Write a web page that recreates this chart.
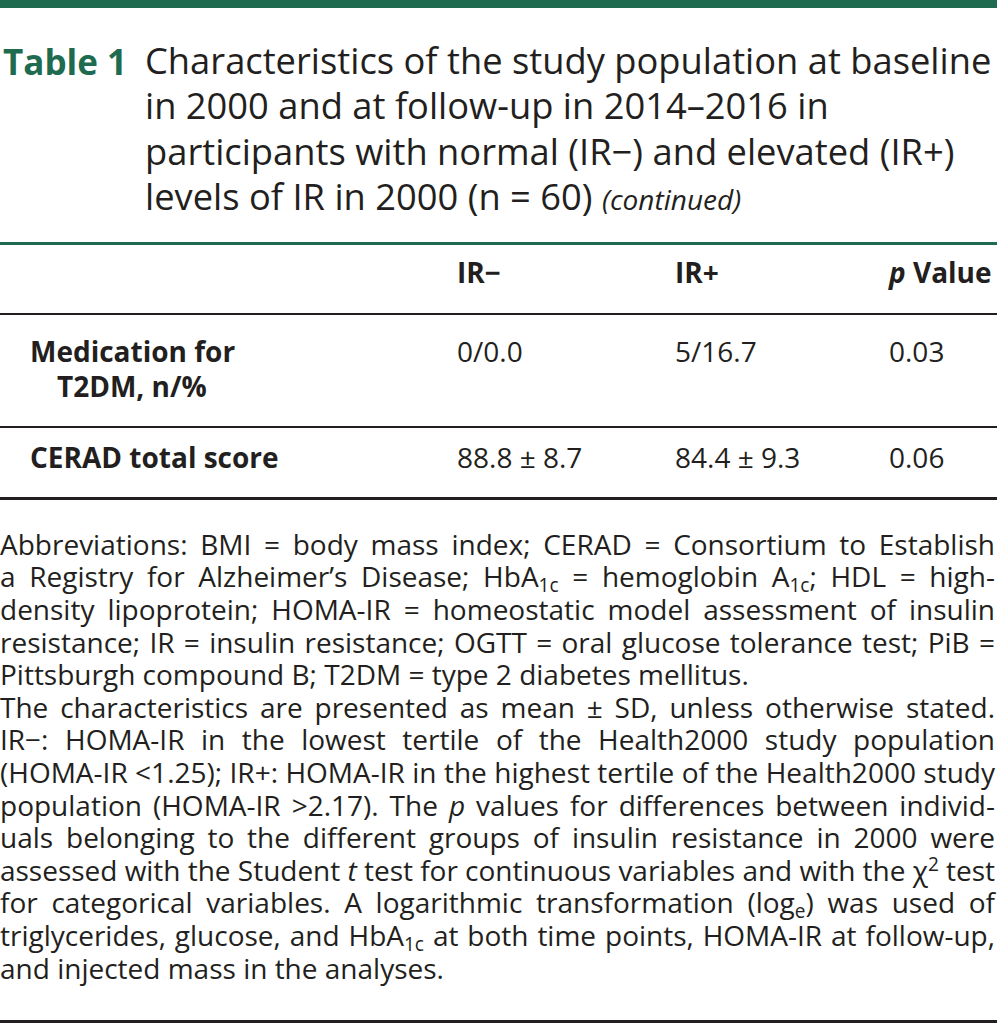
<!DOCTYPE html>
<html lang="en">
<head>
<meta charset="UTF-8">
<title>Table 1</title>
<script src="https://cdn.jsdelivr.net/npm/chart.js"></script>
<style>
    body {
        margin: 0;
        width: 997px;
        height: 1023px;
        position: relative;
        background: #fff;
        color: #231f20;
        font-family: "Open Sans", sans-serif;
        overflow: hidden;
    }
    #topBar {
        position: absolute; left: 0; top: 0; width: 997px; height: 8px;
        background: #1e6b4f;
    }
    #tableNo {
        position: absolute; left: 3px; top: 38.7px;
        font-size: 35px; line-height: 45.5px; font-weight: 700; color: #1e6b4f;
    }
    #caption {
        position: absolute; left: 145px; top: 37.8px;
        font-size: 36.3px; line-height: 45.5px; white-space: nowrap;
    }
    #caption i { font-size: 28px; }
    #dataTable {
        position: absolute; left: 0; top: 242px; width: 997px;
        border-collapse: separate; border-spacing: 0;
        table-layout: fixed;
        font-size: 28px; line-height: 35px;
    }
    #dataTable td, #dataTable th {
        vertical-align: top; text-align: left; padding: 0; white-space: nowrap;
    }
    #dataTable th {
        border-top: 3px solid #1e6b4f;
        border-bottom: 2px solid #231f20;
        padding-top: 9.6px; padding-bottom: 23.4px;
        font-weight: 700;
    }
    #dataTable td.lab { padding-left: 30px; font-weight: 700; }
    #dataTable td.lab div { white-space: normal; width: 260px; padding-left: 27px; text-indent: -27px; }
    #dataTable tr.r0 td { padding-top: 18.6px; padding-bottom: 22.4px; border-bottom: 2px solid #231f20; }
    #dataTable tr.r1 td { padding-top: 11.6px; padding-bottom: 22.4px; border-bottom: 3px solid #231f20; }
    #notes {
        position: absolute; left: 0; top: 527.8px; width: 995px;
        font-size: 28px; line-height: 32.6px;
    }
    #notes div { text-align: justify; text-align-last: justify; white-space: nowrap; }
    #notes div.last { text-align-last: left; }
    #notes sub { font-size: 0.68em; vertical-align: -0.25em; line-height: 0; }
    #notes sup { font-size: 0.68em; vertical-align: 0.5em; line-height: 0; }
    #bottomBar {
        position: absolute; left: 0; top: 1020px; width: 997px; height: 3px;
        background: #231f20;
    }
</style>
</head>
<body>
<div id="topBar"></div>
<div id="tableNo">Table 1</div>
<div id="caption"></div>
<table id="dataTable">
    <colgroup>
        <col style="width:457px"><col style="width:218px"><col style="width:214px"><col style="width:108px">
    </colgroup>
    <thead><tr id="headRow"></tr></thead>
    <tbody id="bodyRows"></tbody>
</table>
<div id="notes"></div>
<div id="bottomBar"></div>

<script>
    // başlık satırları
    var captionLines = [
        "Characteristics of the study population at baseline",
        "in 2000 and at follow-up in 2014\u20132016 in",
        "participants with normal (IR\u2212) and elevated (IR+)",
        "levels of IR in 2000 (n = 60) <i>(continued)</i>"
    ];

    // tablo verileri
    var columns = ["", "IR\u2212", "IR+", "<i>p</i> Value"];
    var rowLabels = ["Medication for T2DM, n/%", "CERAD total score"];
    var irMinus = ["0/0.0", "88.8 \u00b1 8.7"];
    var irPlus = ["5/16.7", "84.4 \u00b1 9.3"];
    var pValues = ["0.03", "0.06"];

    // dipnot satırları
    var noteLines = [
        "Abbreviations: BMI = body mass index; CERAD = Consortium to Establish",
        "a Registry for Alzheimer\u2019s Disease; HbA<sub>1c</sub> = hemoglobin A<sub>1c</sub>; HDL = high-",
        "density lipoprotein; HOMA-IR = homeostatic model assessment of insulin",
        "resistance; IR = insulin resistance; OGTT = oral glucose tolerance test; PiB =",
        "Pittsburgh compound B; T2DM = type 2 diabetes mellitus.",
        "The characteristics are presented as mean \u00b1 SD, unless otherwise stated.",
        "IR\u2212: HOMA-IR in the lowest tertile of the Health2000 study population",
        "(HOMA-IR &lt;1.25); IR+: HOMA-IR in the highest tertile of the Health2000 study",
        "population (HOMA-IR &gt;2.17). The <i>p</i> values for differences between individ-",
        "uals belonging to the different groups of insulin resistance in 2000 were",
        "assessed with the Student <i>t</i> test for continuous variables and with the \u03c7<sup>2</sup> test",
        "for categorical variables. A logarithmic transformation (log<sub>e</sub>) was used of",
        "triglycerides, glucose, and HbA<sub>1c</sub> at both time points, HOMA-IR at follow-up,",
        "and injected mass in the analyses."
    ];
    var paragraphEnds = [4, 13];

    document.getElementById("caption").innerHTML = captionLines.join("<br>");

    var head = document.getElementById("headRow");
    columns.forEach(function (c) {
        var th = document.createElement("th");
        th.innerHTML = c;
        head.appendChild(th);
    });

    var body = document.getElementById("bodyRows");
    for (var i = 0; i < rowLabels.length; i++) {
        var tr = document.createElement("tr");
        tr.className = "r" + i;
        tr.innerHTML = '<td class="lab"><div>' + rowLabels[i] + '</div></td>' +
            '<td>' + irMinus[i] + '</td><td>' + irPlus[i] + '</td><td>' + pValues[i] + '</td>';
        body.appendChild(tr);
    }

    var notes = document.getElementById("notes");
    noteLines.forEach(function (line, idx) {
        var d = document.createElement("div");
        if (paragraphEnds.indexOf(idx) >= 0) d.className = "last";
        d.innerHTML = '<span>' + line + '</span>';
        notes.appendChild(d);
        // satır sığmıyorsa harf aralığını daralt
        var w = d.firstChild.getBoundingClientRect().width;
        if (w > 995) {
            var n = d.textContent.length;
            d.style.letterSpacing = ((995 - w) / n) + "px";
        }
    });
</script>
</body>
</html>
